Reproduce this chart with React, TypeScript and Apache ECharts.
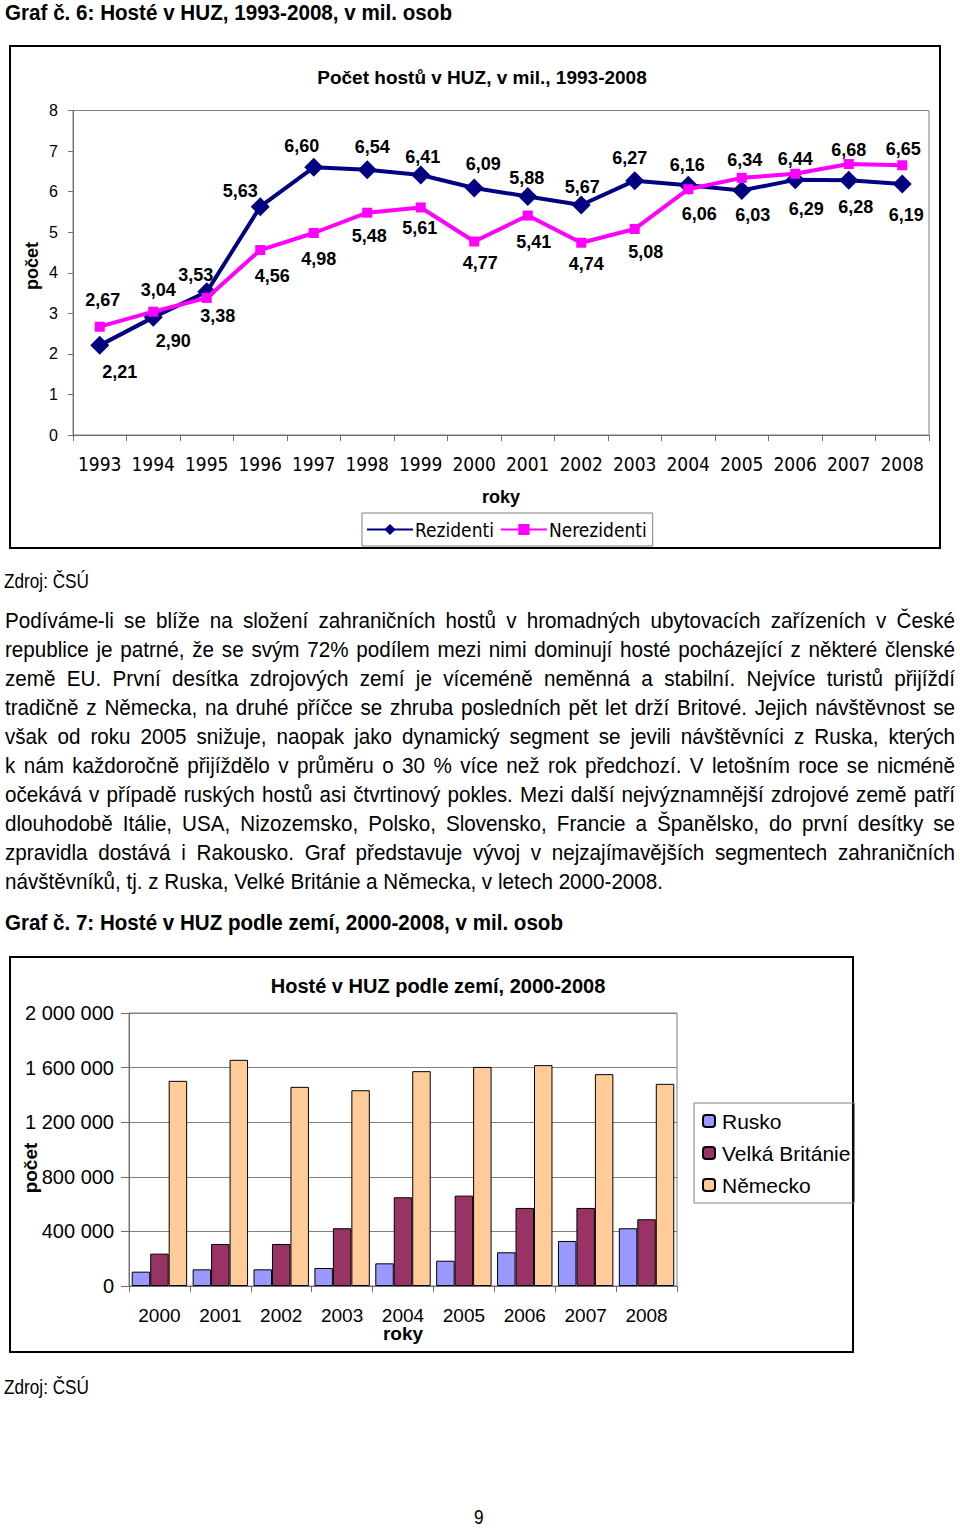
import React, { useEffect, useRef } from "react";
import * as echarts from "echarts";

const NARROW = "'DejaVu Sans Condensed', 'Liberation Sans Narrow', sans-serif";
const ARIAL = "'Liberation Sans', Arial, Helvetica, sans-serif";

// ---- Chart 1 data ----
const years1 = ["1993", "1994", "1995", "1996", "1997", "1998", "1999", "2000", "2001", "2002", "2003", "2004", "2005", "2006", "2007", "2008"];
const rezidenti = [2.21, 2.9, 3.53, 5.63, 6.6, 6.54, 6.41, 6.09, 5.88, 5.67, 6.27, 6.16, 6.03, 6.29, 6.28, 6.19];
const nerezidenti = [2.67, 3.04, 3.38, 4.56, 4.98, 5.48, 5.61, 4.77, 5.41, 4.74, 5.08, 6.06, 6.34, 6.44, 6.68, 6.65];
const yTicks1 = { min: 0, max: 8, interval: 1 };

// label offsets (style only)
const rezLabelDx = [20, 20, -11, -20, -12, 5, 2, 9, -1, 1, -5, -1, 11, 11, 7, 4];
const rezLabelDy = [27, 24, -17, -16, -21, -23, -18, -24, -18, -18, -23, -20, 25, 29, 27, 31];
const nerLabelDx = [3, 5, 11, 12, 5, 2, -1, 6, 6, 5, 11, 11, 3, 0, 0, 1];
const nerLabelDy = [-27, -22, 18, 26, 26, 23, 21, 21, 26, 21, 23, 25, -18, -15, -14, -16];

// ---- Chart 2 data ----
const years2 = ["2000", "2001", "2002", "2003", "2004", "2005", "2006", "2007", "2008"];
const rusko = [105000, 122000, 122000, 132000, 166000, 185000, 247000, 330000, 423000];
const britanie = [237000, 308000, 308000, 423000, 650000, 662000, 572000, 572000, 489000];
const nemecko = [1503000, 1657000, 1459000, 1434000, 1574000, 1605000, 1618000, 1552000, 1481000];
const yTicks2 = { min: 0, max: 2000000, interval: 400000 };

const heading1 = "Graf č. 6: Hosté v HUZ, 1993-2008, v mil. osob";
const heading2 = "Graf č. 7: Hosté v HUZ podle zemí, 2000-2008, v mil. osob";
const sourceText = "Zdroj: ČSÚ";
const pageNumber = "9";
const yAxisName = "počet";

const paragraph = [
  "Podíváme-li se blíže na složení zahraničních hostů v hromadných ubytovacích zařízeních v České",
  "republice je patrné, že se svým 72% podílem mezi nimi dominují hosté pocházející z některé členské",
  "země EU. První desítka zdrojových zemí je víceméně neměnná a stabilní. Nejvíce turistů přijíždí",
  "tradičně z Německa, na druhé příčce se zhruba posledních pět let drží Britové. Jejich návštěvnost se",
  "však od roku 2005 snižuje, naopak jako dynamický segment se jevili návštěvníci z Ruska, kterých",
  "k nám každoročně přijíždělo v průměru o 30 % více než rok předchozí. V letošním roce se nicméně",
  "očekává v případě ruských hostů asi čtvrtinový pokles. Mezi další nejvýznamnější zdrojové země patří",
  "dlouhodobě Itálie, USA, Nizozemsko, Polsko, Slovensko, Francie a Španělsko, do první desítky se",
  "zpravidla dostává i Rakousko. Graf představuje vývoj v nejzajímavějších segmentech zahraničních",
  "návštěvníků, tj. z Ruska, Velké Británie a Německa, v letech 2000-2008.",
];

const fmtComma = (v: number) => v.toFixed(2).replace(".", ",");
const fmtThousands = (v: number) => String(v).replace(/\B(?=(\d{3})+(?!\d))/g, " ");

let measureCtx: CanvasRenderingContext2D | null = null;
function measure(text: string, size: number, bold: boolean): number {
  if (!measureCtx) measureCtx = document.createElement("canvas").getContext("2d");
  if (!measureCtx) return text.length * size * 0.5;
  measureCtx.font = `${bold ? "bold " : ""}${size}px 'Liberation Sans', Arial, sans-serif`;
  return measureCtx.measureText(text).width;
}

function rotatedName(x: number, y: number, size: number): any {
  return {
    type: "text",
    x,
    y,
    rotation: Math.PI / 2,
    style: {
      text: yAxisName,
      fontFamily: ARIAL,
      fontWeight: "bold",
      fontSize: size,
      fill: "#000",
      align: "center",
      verticalAlign: "middle",
    },
  };
}

function buildOption1(): any {
  const axisColor = "#6e6e6e";
  const labelStyle = { fontFamily: ARIAL, fontWeight: "bold", fontSize: 18, color: "#000" };
  return {
    animation: false,
    title: {
      text: "Počet hostů v HUZ, v mil., 1993-2008",
      left: 477,
      textAlign: "center",
      top: 63,
      textStyle: { fontFamily: ARIAL, fontWeight: "bold", fontSize: 19, color: "#000" },
    },
    graphic: [
      { type: "rect", shape: { x: 10, y: 46, width: 930, height: 502 }, style: { fill: "none", stroke: "#000", lineWidth: 2 } },
      rotatedName(32, 266, 18),
    ],
    legend: {
      left: 362,
      top: 513,
      padding: [7, 6, 7, 4],
      itemGap: 6,
      itemWidth: 46,
      itemHeight: 14,
      borderColor: "#808080",
      borderWidth: 1,
      textStyle: { fontFamily: NARROW, fontSize: 19, color: "#000", padding: [0, 0, 0, -3] },
      data: ["Rezidenti", "Nerezidenti"],
    },
    grid: { left: 73, top: 110.5, right: 31, bottom: 125, show: true, borderColor: "#808080", borderWidth: 1, outerBoundsMode: "none", containLabel: false },
    xAxis: {
      type: "category",
      data: years1,
      boundaryGap: true,
      name: "roky",
      nameLocation: "middle",
      nameGap: 53,
      nameMoveOverlap: false,
      nameTextStyle: { fontFamily: ARIAL, fontWeight: "bold", fontSize: 18, color: "#000" },
      axisLine: { lineStyle: { color: axisColor, width: 1 } },
      axisTick: { show: true, interval: 0, length: 6, lineStyle: { color: axisColor } },
      axisLabel: { interval: 0, margin: 19, fontFamily: NARROW, fontSize: 19, color: "#000" },
      splitLine: { show: false },
    },
    yAxis: {
      type: "value",
      min: yTicks1.min,
      max: yTicks1.max,
      interval: yTicks1.interval,
      axisLine: { show: true, lineStyle: { color: axisColor, width: 1 } },
      axisTick: { show: true, length: 5, lineStyle: { color: axisColor } },
      axisLabel: { margin: 15, fontFamily: ARIAL, fontSize: 16, color: "#000" },
      splitLine: { show: false },
    },
    series: [
      {
        name: "Rezidenti",
        type: "line",
        symbol: "diamond",
        symbolSize: 19,
        itemStyle: { color: "#000080" },
        lineStyle: { color: "#000080", width: 4 },
        label: { show: true, formatter: (p: any) => fmtComma(p.value), ...labelStyle },
        data: rezidenti.map((v, i) => ({
          value: v,
          label: { position: "inside", offset: [rezLabelDx[i], rezLabelDy[i]] },
        })),
        z: 2,
      },
      {
        name: "Nerezidenti",
        type: "line",
        symbol: "rect",
        symbolSize: 10,
        itemStyle: { color: "#FF00FF" },
        lineStyle: { color: "#FF00FF", width: 4 },
        label: { show: true, formatter: (p: any) => fmtComma(p.value), ...labelStyle },
        data: nerezidenti.map((v, i) => ({
          value: v,
          label: { position: "inside", offset: [nerLabelDx[i], nerLabelDy[i]] },
        })),
        z: 3,
      },
    ],
  };
}

function buildOption2(): any {
  const axisColor = "#6e6e6e";
  const barBorder = { borderColor: "#000", borderWidth: 1 };
  return {
    animation: false,
    title: {
      text: "Hosté v HUZ podle zemí, 2000-2008",
      left: 433,
      textAlign: "center",
      top: 31,
      textStyle: { fontFamily: ARIAL, fontWeight: "bold", fontSize: 20, color: "#000" },
    },
    graphic: [
      { type: "rect", shape: { x: 10, y: 17, width: 843, height: 395 }, style: { fill: "none", stroke: "#000", lineWidth: 2 } },
      rotatedName(30, 228, 19),
    ],
    legend: {
      orient: "vertical",
      left: 694,
      top: 163,
      padding: [7, 4, 7, 8],
      itemGap: 10,
      itemWidth: 12,
      itemHeight: 12,
      borderColor: "#808080",
      borderWidth: 1,
      textStyle: { fontFamily: ARIAL, fontSize: 21, color: "#000", lineHeight: 22, padding: [0, 0, 0, 2] },
      data: ["Rusko", "Velká Británie", "Německo"],
    },
    grid: { left: 129, right: 283, top: 73, bottom: 94, show: true, borderColor: "#808080", borderWidth: 1, outerBoundsMode: "none", containLabel: false },
    xAxis: {
      type: "category",
      data: years2,
      name: "roky",
      nameLocation: "middle",
      nameGap: 38,
      nameMoveOverlap: false,
      nameTextStyle: { fontFamily: ARIAL, fontWeight: "bold", fontSize: 19, color: "#000" },
      axisLine: { lineStyle: { color: axisColor } },
      axisTick: { show: true, interval: 0, length: 6, lineStyle: { color: axisColor } },
      axisLabel: { interval: 0, margin: 20, fontFamily: ARIAL, fontSize: 19, color: "#000" },
    },
    yAxis: {
      type: "value",
      min: yTicks2.min,
      max: yTicks2.max,
      interval: yTicks2.interval,
      axisLine: { show: true, lineStyle: { color: axisColor } },
      axisTick: { show: true, length: 8, lineStyle: { color: axisColor } },
      axisLabel: { margin: 15, fontFamily: ARIAL, fontSize: 20, color: "#000", formatter: (v: number) => fmtThousands(v) },
      splitLine: { show: true, lineStyle: { color: "#808080", width: 1 } },
    },
    series: [
      { name: "Rusko", type: "bar", barGap: "0%", barCategoryGap: "9%", itemStyle: { color: "#9999FF", ...barBorder }, data: rusko },
      { name: "Velká Británie", type: "bar", barGap: "0%", barCategoryGap: "9%", itemStyle: { color: "#993366", ...barBorder }, data: britanie },
      { name: "Německo", type: "bar", barGap: "0%", barCategoryGap: "9%", itemStyle: { color: "#FFCC99", ...barBorder }, data: nemecko },
    ],
  };
}

// Narrow text emulated by horizontally scaling Liberation Sans to a target width
function FitText(props: { text: string; top: number; left: number; size: number; bold?: boolean; width: number; lh: number }) {
  const w = measure(props.text, props.size, !!props.bold);
  const s = w > 0 ? props.width / w : 0.82;
  return (
    <div
      style={{
        position: "absolute",
        top: props.top,
        left: props.left,
        whiteSpace: "nowrap",
        fontFamily: ARIAL,
        fontWeight: props.bold ? "bold" : "normal",
        fontSize: props.size,
        lineHeight: props.lh + "px",
        color: "#000",
        transform: `scaleX(${s})`,
        transformOrigin: "0 0",
      }}
    >
      {props.text}
    </div>
  );
}

export default function App() {
  const ref1 = useRef<HTMLDivElement>(null);
  const ref2 = useRef<HTMLDivElement>(null);

  useEffect(() => {
    const c1 = echarts.init(ref1.current!, undefined, { renderer: "svg" });
    c1.setOption(buildOption1());
    const c2 = echarts.init(ref2.current!, undefined, { renderer: "svg" });
    c2.setOption(buildOption2());
    return () => {
      c1.dispose();
      c2.dispose();
    };
  }, []);

  const lastLine = paragraph[paragraph.length - 1];
  const lastW = measure(lastLine, 22, false);
  const ps = lastW > 0 ? 658 / lastW : 0.8;

  return (
    <div style={{ position: "absolute", left: 0, top: 0, width: 960, height: 1529, background: "#fff", overflow: "hidden" }}>
      <div ref={ref1} style={{ position: "absolute", left: 0, top: 0, width: 960, height: 560 }} />
      <div ref={ref2} style={{ position: "absolute", left: 0, top: 940, width: 960, height: 440 }} />

      <FitText text={heading1} top={0} left={5} size={22} bold width={447} lh={26} />
      <FitText text={sourceText} top={568} left={4} size={21} width={85} lh={26} />

      {paragraph.map((line, i) => {
        const last = i === paragraph.length - 1;
        return (
          <div
            key={i}
            style={{
              position: "absolute",
              left: 5,
              top: 606 + i * 29,
              width: last ? undefined : 950 / ps,
              fontFamily: ARIAL,
              fontSize: 22,
              lineHeight: "29px",
              color: "#000",
              whiteSpace: "nowrap",
              textAlign: last ? "left" : "justify",
              textAlignLast: last ? "left" : "justify",
              transform: `scaleX(${ps})`,
              transformOrigin: "0 0",
            } as React.CSSProperties}
          >
            {line}
          </div>
        );
      })}

      <FitText text={heading2} top={910} left={5} size={22} bold width={558} lh={26} />
      <FitText text={sourceText} top={1374} left={4} size={21} width={85} lh={26} />
      <div style={{ position: "absolute", top: 1504, left: 474, fontFamily: ARIAL, fontSize: 21, lineHeight: "26px", color: "#000", transform: "scaleX(0.82)", transformOrigin: "0 0" }}>
        {pageNumber}
      </div>
    </div>
  );
}
